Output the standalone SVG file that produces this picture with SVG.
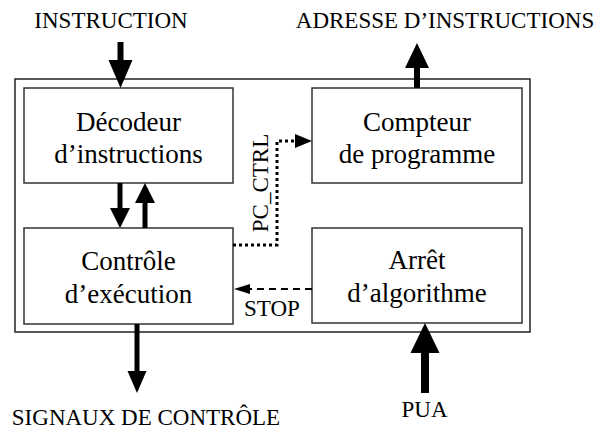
<svg xmlns="http://www.w3.org/2000/svg" width="598" height="431" viewBox="0 0 598 431">
<style>
.box{fill:#fff;stroke:#333;stroke-width:1.5}
.outer{fill:none;stroke:#222;stroke-width:1.5}
.bt{font-family:'Liberation Serif','Times New Roman',serif;font-size:27px;fill:#000;text-anchor:middle}
.lb{font-family:'Liberation Serif','Times New Roman',serif;font-size:23px;fill:#000;text-anchor:middle}
.shaft{stroke:#000;fill:none}
.head{fill:#000}
</style>
<rect x="0" y="0" width="598" height="431" fill="#fff"/>
<rect class="outer" x="15" y="79" width="515" height="253"/>
<g id="decodeur">
<rect class="box" x="24" y="88" width="209" height="95"/>
<text class="bt" x="128.5" y="131">Décodeur</text>
<text class="bt" x="128.5" y="163">d’instructions</text>
</g>
<g id="compteur">
<rect class="box" x="312" y="88" width="210" height="95"/>
<text class="bt" x="417" y="131">Compteur</text>
<text class="bt" x="417" y="163">de programme</text>
</g>
<g id="controle">
<rect class="box" x="24" y="228" width="209" height="96"/>
<text class="bt" x="128.5" y="270">Contrôle</text>
<text class="bt" x="128.5" y="303">d’exécution</text>
</g>
<g id="arret">
<rect class="box" x="312" y="228" width="210" height="95"/>
<text class="bt" x="417" y="269">Arrêt</text>
<text class="bt" x="417" y="302">d’algorithme</text>
</g>
<g id="labels">
<text class="lb" x="111" y="28">INSTRUCTION</text>
<text class="lb" x="445" y="28">ADRESSE D’INSTRUCTIONS</text>
<text class="lb" x="146" y="425">SIGNAUX DE CONTRÔLE</text>
<text class="lb" x="424.5" y="417">PUA</text>
<text class="lb" x="272" y="316">STOP</text>
<text class="lb" transform="translate(268,183) rotate(-90)" x="0" y="0">PC_CTRL</text>
</g>
<g id="connectors">
<line class="shaft" x1="120.5" y1="42" x2="120.5" y2="62" stroke-width="6"/>
<polygon class="head" points="108.5,60 132.5,60 120.5,88"/>
<line class="shaft" x1="417" y1="88" x2="417" y2="66" stroke-width="6"/>
<polygon class="head" points="405,68 429,68 417,43"/>
<line class="shaft" x1="120" y1="183" x2="120" y2="210" stroke-width="5"/>
<polygon class="head" points="110,208 130,208 120,228"/>
<line class="shaft" x1="145" y1="228" x2="145" y2="201" stroke-width="5"/>
<polygon class="head" points="135,203 155,203 145,183"/>
<line class="shaft" x1="137" y1="324" x2="137" y2="373" stroke-width="5"/>
<polygon class="head" points="127.5,371 146.5,371 137,393"/>
<line class="shaft" x1="425" y1="393" x2="425" y2="350" stroke-width="8"/>
<polygon class="head" points="410.5,353 439.5,353 425,323"/>
<polyline class="shaft" points="233,245 277,245 277,141 296,141" stroke-width="3" stroke-dasharray="3,3"/>
<polygon class="head" points="295,134 312,141 295,148"/>
<line class="shaft" x1="312" y1="289" x2="248" y2="289" stroke-width="2" stroke-dasharray="7,5"/>
<polygon class="head" points="250,284 250,294 234,289"/>
</g>
</svg>
